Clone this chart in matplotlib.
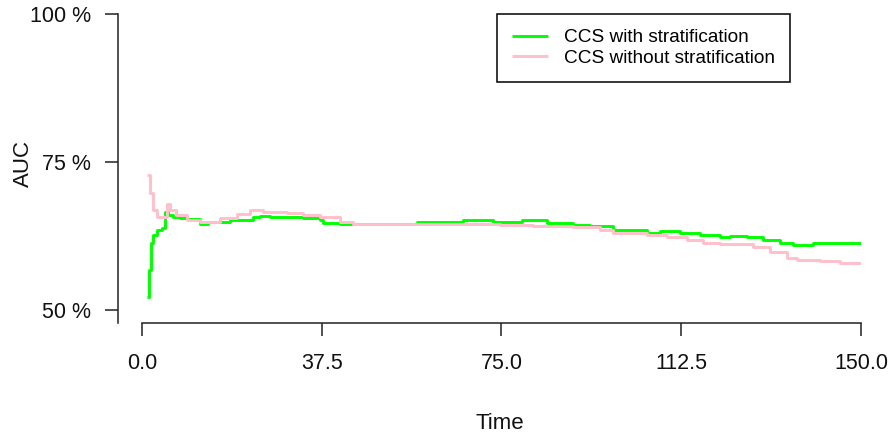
import matplotlib
matplotlib.use("Agg")
import matplotlib.pyplot as plt

plt.rcParams['font.family'] = ['Liberation Sans', 'DejaVu Sans']

# AUC over time (step curves)
time_strat = [0.98, 1.52, 1.8, 2.36, 3.07, 4.1, 4.8, 5.5, 6.5, 7.9, 9.3, 12.1, 13.8,
              18.4, 23.2, 24.6, 26.7, 33.6, 37.1, 37.8, 41.3, 44.0, 57.3, 67.0, 73.2,
              79.2, 84.4, 89.9, 93.5, 98.3, 101.8, 105.3, 108.1, 112.2, 116.4, 120.6,
              122.7, 126.2, 129.5, 133.1, 135.8, 140.0, 150.0]
auc_strat = [52.2, 56.8, 61.3, 62.7, 63.5, 63.9, 66.6, 66.0, 65.8, 65.5, 65.4, 64.6, 64.9,
             65.2, 65.7, 65.9, 65.7, 65.5, 65.2, 64.7, 64.5, 64.5, 64.9, 65.2, 64.9,
             65.2, 64.7, 64.4, 64.2, 63.5, 63.5, 63.1, 63.4, 63.0, 62.7, 62.3,
             62.5, 62.3, 61.8, 61.4, 61.0, 61.3, 61.3]

time_nostrat = [0.98, 1.67, 2.3, 3.07, 5.15, 5.84, 7.2, 9.3, 12.1, 16.3, 19.8, 22.5, 25.2,
                30.2, 33.6, 37.1, 41.3, 44.0, 58.0, 74.7, 81.6, 89.9, 95.5, 98.3, 102.4,
                105.3, 109.5, 113.6, 117.0, 120.6, 125.4, 127.5, 131.0, 134.5, 136.6,
                141.5, 145.6, 150.0]
auc_nostrat = [72.8, 69.8, 66.9, 65.8, 68.0, 66.9, 66.0, 65.2, 64.9, 65.5, 66.2, 66.9, 66.6,
               66.4, 66.0, 65.8, 64.9, 64.6, 64.5, 64.4, 64.2, 64.0, 63.6, 63.1, 63.0,
               62.7, 62.3, 61.9, 61.4, 61.1, 61.1, 60.6, 59.8, 58.9, 58.4,
               58.3, 58.0, 58.0]

x_ticks = [0, 37.5, 75, 112.5, 150]
x_labels = ["0.0", "37.5", "75.0", "112.5", "150.0"]
y_ticks = [50, 75, 100]
y_labels = ["50 %", "75 %", "100 %"]
series_names = ["CCS with stratification", "CCS without stratification"]

W, H = 891, 436
fig = plt.figure(figsize=(W / 100, H / 100), dpi=100)
ax = fig.add_axes([118 / W, (H - 323) / H, (861 - 118) / W, (323 - 14) / H])

ax.plot(time_strat, auc_strat, drawstyle='steps-post', color='#00FF00', lw=2.1,
        label=series_names[0], solid_capstyle='butt')
ax.plot(time_nostrat, auc_nostrat, drawstyle='steps-post', color='#FFC0CB', lw=2.1,
        label=series_names[1], solid_capstyle='butt')

ax.set_xlim(-5, 150)
ax.set_ylim(47.85, 100)

for s in ['top', 'right']:
    ax.spines[s].set_visible(False)
ax.spines['bottom'].set_bounds(0, 150)
for s in ['left', 'bottom']:
    ax.spines[s].set_color('#222222')
    ax.spines[s].set_linewidth(1.1)

ax.set_xticks(x_ticks)
ax.set_xticklabels(x_labels)
ax.set_yticks(y_ticks)
ax.set_yticklabels(y_labels)
ax.tick_params(axis='both', length=9.5, width=1.1, color='#222222',
               labelsize=15.5, labelcolor='#111111')
ax.tick_params(axis='x', pad=12)
ax.tick_params(axis='y', pad=10)

fig.text(500 / W, 1 - 423 / H, "Time", ha='center', va='center', fontsize=16, color='#111111')
fig.text(23 / W, 1 - 163 / H, "AUC", ha='center', va='center', rotation=90,
         fontsize=16, color='#111111')

leg = ax.legend(loc='upper right', bbox_to_anchor=(790 / W, 1 - 14 / H),
                bbox_transform=fig.transFigure, borderaxespad=0, fontsize=13.7,
                frameon=True, fancybox=False, edgecolor='black', framealpha=1,
                handlelength=1.9, handletextpad=0.85, borderpad=0.78, labelspacing=0.17)
leg.get_frame().set_linewidth(1.1)

fig.savefig("out.png", dpi=100)
